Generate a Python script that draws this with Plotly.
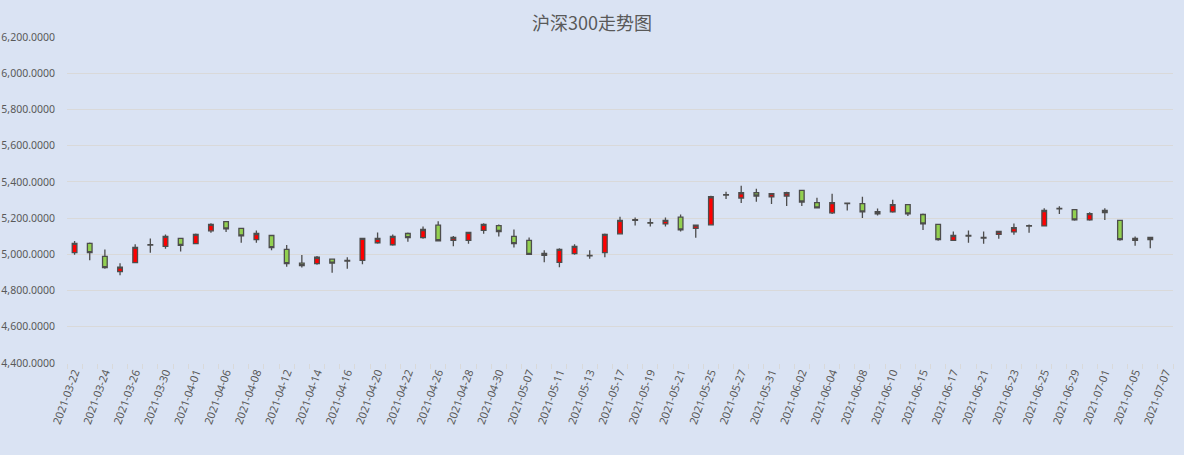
import plotly.graph_objects as go

# trading days shown on the category axis (the last one has no data)
dates = [
    "2021-03-22", "2021-03-23", "2021-03-24", "2021-03-25", "2021-03-26",
    "2021-03-29", "2021-03-30", "2021-03-31", "2021-04-01", "2021-04-02",
    "2021-04-06", "2021-04-07", "2021-04-08", "2021-04-09", "2021-04-12",
    "2021-04-13", "2021-04-14", "2021-04-15", "2021-04-16", "2021-04-19",
    "2021-04-20", "2021-04-21", "2021-04-22", "2021-04-23", "2021-04-26",
    "2021-04-27", "2021-04-28", "2021-04-29", "2021-04-30", "2021-05-06",
    "2021-05-07", "2021-05-10", "2021-05-11", "2021-05-12", "2021-05-13",
    "2021-05-14", "2021-05-17", "2021-05-18", "2021-05-19", "2021-05-20",
    "2021-05-21", "2021-05-24", "2021-05-25", "2021-05-26", "2021-05-27",
    "2021-05-28", "2021-05-31", "2021-06-01", "2021-06-02", "2021-06-03",
    "2021-06-04", "2021-06-07", "2021-06-08", "2021-06-09", "2021-06-10",
    "2021-06-11", "2021-06-15", "2021-06-16", "2021-06-17", "2021-06-18",
    "2021-06-21", "2021-06-22", "2021-06-23", "2021-06-24", "2021-06-25",
    "2021-06-28", "2021-06-29", "2021-06-30", "2021-07-01", "2021-07-02",
    "2021-07-05", "2021-07-06", "2021-07-07",
]

open_ = [
    5009, 5060, 4989, 4905, 4954, 5051, 5044, 5088, 5059, 5130,
    5181, 5143, 5081, 5104, 5027, 4951, 4949, 4973, 4963, 4967,
    5064, 5053, 5115, 5092, 5161, 5077, 5077, 5132, 5159, 5099,
    5077, 5005, 4956, 5004, 4994, 5009, 5113, 5188, 5175, 5168,
    5205, 5143, 5163, 5327, 5311, 5340, 5317, 5322, 5353, 5285,
    5229, 5282, 5280, 5223, 5234, 5275, 5220, 5165, 5077, 5101,
    5093, 5110, 5124, 5156, 5157, 5251, 5247, 5190, 5242, 5187,
    5077, 5093,
]
high = [
    5073, 5066, 5027, 4951, 5055, 5088, 5110, 5088, 5115, 5172,
    5182, 5144, 5132, 5105, 5051, 4996, 4991, 4974, 4984, 5089,
    5121, 5110, 5121, 5154, 5183, 5101, 5122, 5172, 5165, 5137,
    5093, 5022, 5033, 5055, 5022, 5115, 5207, 5203, 5198, 5203,
    5220, 5162, 5324, 5346, 5379, 5362, 5336, 5346, 5354, 5313,
    5335, 5283, 5318, 5253, 5302, 5276, 5225, 5166, 5126, 5132,
    5126, 5127, 5170, 5165, 5254, 5265, 5248, 5232, 5254, 5188,
    5099, 5094,
]
low = [
    4998, 4967, 4921, 4885, 4952, 5009, 5031, 5015, 5058, 5119,
    5124, 5064, 5064, 5022, 4932, 4927, 4943, 4899, 4921, 4945,
    5059, 5048, 5070, 5086, 5074, 5044, 5059, 5113, 5099, 5038,
    4998, 4956, 4929, 4998, 4976, 4984, 5113, 5159, 5154, 5154,
    5126, 5092, 5162, 5306, 5284, 5291, 5278, 5267, 5267, 5255,
    5223, 5242, 5201, 5214, 5229, 5212, 5135, 5075, 5076, 5064,
    5059, 5086, 5108, 5119, 5156, 5223, 5185, 5185, 5190, 5075,
    5048, 5033,
]
close = [
    5060, 5009, 4927, 4929, 5038, 5054, 5099, 5049, 5110, 5165,
    5141, 5102, 5115, 5037, 4949, 4938, 4984, 4951, 4966, 5088,
    5088, 5099, 5092, 5137, 5075, 5093, 5121, 5165, 5126, 5059,
    5000, 4995, 5027, 5044, 4991, 5110, 5187, 5191, 5172, 5187,
    5135, 5161, 5318, 5329, 5340, 5322, 5335, 5340, 5289, 5256,
    5285, 5280, 5234, 5236, 5275, 5223, 5168, 5081, 5104, 5104,
    5090, 5126, 5148, 5158, 5242, 5254, 5190, 5225, 5231, 5081,
    5088, 5082,
]

y_ticks = list(range(4400, 6201, 200))

TEXT = "#595959"
BG = "#dae3f3"
GRID = "#d9d9d9"
OUTLINE = "#4d4d4d"

idx = list(range(len(close)))

fig = go.Figure(
    go.Candlestick(
        x=idx,
        open=open_,
        high=high,
        low=low,
        close=close,
        increasing=dict(fillcolor="#ff0000", line=dict(color=OUTLINE, width=1.3)),
        decreasing=dict(fillcolor="#92d050", line=dict(color=OUTLINE, width=1.3)),
        whiskerwidth=0,
        text=dates[: len(close)],
        hoverinfo="text+y",
        showlegend=False,
    )
)

fig.update_layout(
    width=1184,
    height=455,
    margin=dict(l=67, r=11, t=37, b=92),
    paper_bgcolor=BG,
    plot_bgcolor=BG,
    boxgap=0.56,
    title=dict(
        text="沪深300走势图",
        x=0.5,
        xanchor="center",
        y=0.947,
        yanchor="middle",
        font=dict(family="Noto Sans CJK SC", size=18, color=TEXT),
    ),
    font=dict(family="Noto Sans, Noto Sans CJK SC", size=11, color=TEXT),
    xaxis=dict(
        range=[-0.5, len(dates) - 0.5],
        tickmode="array",
        tickvals=list(range(0, len(dates), 2)),
        ticktext=dates[::2],
        tickangle=-70,
        ticks="",
        showgrid=False,
        zeroline=False,
        showline=False,
        automargin=False,
        rangeslider=dict(visible=False),
        minor=dict(tick0=0.5, dtick=1, ticks="outside", ticklen=5,
                   tickcolor=GRID, showgrid=False),
        tickfont=dict(size=11, color=TEXT),
    ),
    yaxis=dict(
        range=[4400, 6200],
        tickmode="array",
        tickvals=y_ticks,
        tickformat=",.4f",
        showgrid=True,
        gridcolor=GRID,
        gridwidth=1,
        zeroline=False,
        showline=False,
        ticks="",
        automargin=False,
        ticklabelstandoff=11,
        tickfont=dict(size=10.5, color=TEXT),
    ),
)

# drop the page's default body margin so the chart fills the window
fig.write_html(
    "out.html",
    config={"displayModeBar": False},
    post_script="document.body.style.margin='0';"
    "document.body.style.background='#dae3f3';",
)
